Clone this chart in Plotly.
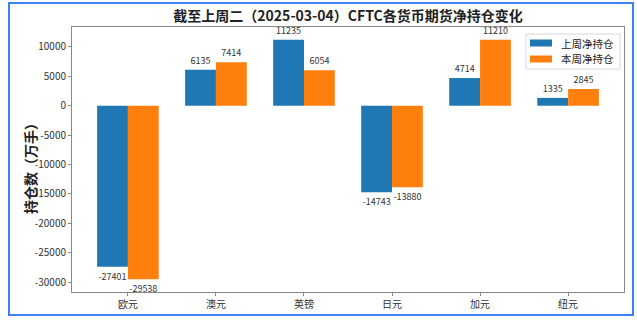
import plotly.graph_objects as go

categories = ["欧元", "澳元", "英镑", "日元", "加元", "纽元"]
last_week = [-27401, 6135, 11235, -14743, 4714, 1335]
this_week = [-29538, 7414, 6054, -13880, 11210, 2845]
series_names = ["上周净持仓", "本周净持仓"]
series_colors = ["#1f77b4", "#ff7f0e"]
y_ticks = [-30000, -25000, -20000, -15000, -10000, -5000, 0, 5000, 10000]

FONT = "Noto Sans CJK SC, DejaVu Sans, sans-serif"
W, H = 637, 322
L, R, T, B = 72, 13, 27, 30
pw, ph = W - L - R, H - T - B


def px(x):
    return (x - L) / pw


def py(y):
    return (H - B - y) / ph


fig = go.Figure()
for name, vals, color in zip(series_names, [last_week, this_week], series_colors):
    fig.add_trace(go.Bar(
        x=categories, y=vals, name=name, marker_color=color,
        marker_line_width=0,
        text=[str(v) for v in vals], textposition="outside",
        textfont=dict(size=9, color="#333333", family=FONT),
        cliponaxis=False, showlegend=False,
    ))

# manual legend (matplotlib style)
shapes = [dict(type="rect", xref="paper", yref="paper",
               x0=px(9), x1=px(633), y0=py(315), y1=py(3),
               line=dict(color="#3b82f6", width=2), layer="below"),
          dict(type="rect", xref="paper", yref="paper",
               x0=px(526), x1=px(620), y0=py(69), y1=py(34),
               line=dict(color="#d8d8d8", width=1), fillcolor="rgba(255,255,255,0.85)",
               layer="above")]
annotations = []
for i, (name, color) in enumerate(zip(series_names, series_colors)):
    yc = 43 + 16 * i
    shapes.append(dict(type="rect", xref="paper", yref="paper",
                       x0=px(530), x1=px(552), y0=py(yc + 3.5), y1=py(yc - 3.5),
                       line=dict(width=0), fillcolor=color, layer="above"))
    annotations.append(dict(text=name, xref="paper", yref="paper",
                            x=px(560), y=py(yc), xanchor="left", yanchor="middle",
                            showarrow=False, borderpad=0,
                            font=dict(size=10.5, color="#222222", family=FONT)))

annotations.append(dict(text="<b>持仓数（万手）</b>", textangle=-90,
                        xref="paper", yref="paper",
                        x=px(30), y=py(165),
                        xanchor="center", yanchor="middle", showarrow=False,
                        font=dict(size=14, color="#222222", family=FONT)))

fig.update_layout(
    width=W, height=H,
    margin=dict(l=L, r=R, t=T, b=B),
    paper_bgcolor="white", plot_bgcolor="white",
    barmode="group", bargap=0.3, bargroupgap=0,
    font=dict(family=FONT, color="#333333"),
    title=dict(text="<b>截至上周二（2025-03-04）CFTC各货币期货净持仓变化</b>",
               x=(L + pw / 2) / W, xanchor="center",
               y=1 - 16 / H, yanchor="middle",
               font=dict(size=14, color="#222222", family=FONT)),
    showlegend=False,
    xaxis=dict(showline=True, linecolor="#888888", linewidth=1, mirror=True,
               ticks="outside", ticklen=3, tickcolor="#888888",
               tickfont=dict(size=10, color="#333333"),
               range=[-0.635, 5.635], showgrid=False),
    yaxis=dict(showline=True, linecolor="#888888", linewidth=1, mirror=True,
               ticks="outside", ticklen=3, tickcolor="#888888",
               tickvals=y_ticks, ticktext=[str(v) for v in y_ticks],
               tickfont=dict(size=10, color="#333333"),
               range=[-31700, 13400], showgrid=False, zeroline=False),
    annotations=annotations,
    shapes=shapes,
)

fig.write_html("out.html")
